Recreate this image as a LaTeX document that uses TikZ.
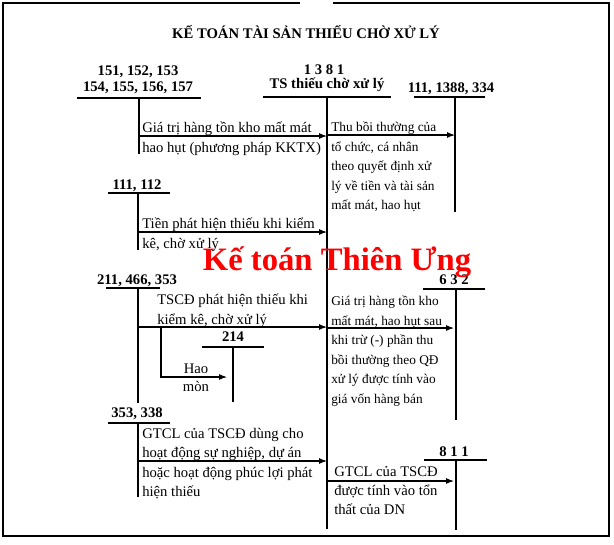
\documentclass[tikz,border=0pt]{standalone}
\usepackage{fontspec}
\setmainfont{Liberation Serif}
\usetikzlibrary{positioning}
\usetikzlibrary{arrows.meta}

\begin{document}
\begin{tikzpicture}[x=0.75pt, y=-0.75pt,
        >={Latex[length=6pt,width=4.5pt]},
        acc/.style = {font=\bfseries\fontsize{11}{13}\selectfont, inner sep=0pt, anchor=base},
        note/.style = {font=\fontsize{11}{15}\selectfont, align=left, anchor=north west, inner sep=0pt},
        notes/.style = {font=\fontsize{10}{14.6}\selectfont, align=left, anchor=north west, inner sep=0pt},
        tline/.style = {line width=0.8pt},
        mline/.style = {line width=1.8pt}
        ]
        \useasboundingbox (0,0) rectangle (614,544);
        % frame
        \draw[line width=2.2pt] (300,3) -- (3,3) -- (3,536) -- (609,536) -- (609,3) -- (333,3);
        \node (title) [acc] at (306,38) {KẾ TOÁN TÀI SẢN THIẾU CHỜ XỬ LÝ};

        % accounts
        \node (a151) [acc] at (138,75) {151, 152, 153};
        \node (a154) [acc] at (138,91) {154, 155, 156, 157};
        \node (a1381) [acc] at (324,74) {1 3 8 1};
        \node (a1381t) [acc] at (327,88) {TS thiếu chờ xử lý};
        \node (a111) [acc] at (451,92) {111, 1388, 334};
        \node (a112) [acc] at (137,189) {111, 112};
        \node (a211) [acc] at (137,284) {211, 466, 353};
        \node (a214) [acc] at (233,341) {214};
        \node (a632) [acc] at (454,284) {6 3 2};
        \node (a353) [acc] at (137,417) {353, 338};
        \node (a811) [acc] at (454,456) {8 1 1};

        % T lines
        \draw[mline] (263,97) -- (391,97);
        \coordinate (mtop) at (327,97);
        \coordinate (mbot) at (327,529);
        \draw[mline] (mtop) -- (mbot);
        \draw[tline] (77,98) -- (201,98);
        \draw[tline] (139,98) -- (139,154);
        \draw[tline] (414,97) -- (485,97);
        \draw[tline] (455,97) -- (455,212);
        \draw[tline] (108,193) -- (170,193);
        \draw[tline] (138,193) -- (138,250);
        \draw[tline] (106,288) -- (160,288);
        \draw[tline] (138,288) -- (138,403);
        \draw[tline] (202,347) -- (264,347);
        \draw[tline] (233,347) -- (233,402);
        \draw[tline] (423,289) -- (485,289);
        \draw[tline] (456,289) -- (456,420);
        \draw[tline] (108,423) -- (170,423);
        \draw[tline] (138,423) -- (138,497);
        \draw[tline] (424,460) -- (487,460);
        \draw[tline] (456,460) -- (456,530);

        % arrows
        \coordinate (s1) at (139,136);
        \coordinate (e1) at (327,136);
        \coordinate (s2) at (327,135);
        \coordinate (e2) at (455,135);
        \coordinate (s3) at (138,232);
        \coordinate (e3) at (327,232);
        \coordinate (s4) at (138,327);
        \coordinate (e4) at (327,327);
        \coordinate (b1) at (161,327);
        \coordinate (b2) at (161,377);
        \coordinate (e5) at (227,377);
        \coordinate (s6) at (327,328);
        \coordinate (e6) at (454,328);
        \coordinate (s7) at (138,461);
        \coordinate (e7) at (327,461);
        \coordinate (s8) at (327,481);
        \coordinate (e8) at (454,481);
        \draw[tline,->] (s1) -- (e1);
        \draw[tline,->] (s2) -- (e2);
        \draw[tline,->] (s3) -- (e3);
        \draw[tline,->] (s4) -- (e4);
        \draw[tline,->] (b1) -- (b2) -- (e5);
        \draw[tline,->] (s6) -- (e6);
        \draw[tline,->] (s7) -- (e7);
        \draw[tline,->] (s8) -- (e8);

        % texts
        \node (t1) [note] at (142,122) {Giá trị hàng tồn kho mất mát\\hao hụt (phương pháp KKTX)};
        \node (t2) [notes] at (331,122) {Thu bồi thường của\\tổ chức, cá nhân\\theo quyết định xử\\lý về tiền và tài sản\\mất mát, hao hụt};
        \node (t3) [note] at (142,218) {Tiền phát hiện thiếu khi kiểm\\kê, chờ xử lý};
        \node (t4) [note] at (157,294) {TSCĐ phát hiện thiếu khi\\kiểm kê, chờ xử lý};
        \node (t5) [font=\fontsize{11}{13.5}\selectfont, align=center, inner sep=0pt] at (196,378) {Hao\\mòn};
        \node (t6) [notes] at (331,296) {Giá trị hàng tồn kho\\mất mát, hao hụt sau\\khi trừ (-) phần thu\\bồi thường theo QĐ\\xử lý được tính vào\\giá vốn hàng bán};
        \node (t7) [note, font=\fontsize{11}{14.5}\selectfont] at (142,428) {GTCL của TSCĐ dùng cho\\hoạt động sự nghiệp, dự án\\hoặc hoạt động phúc lợi phát\\hiện thiếu};
        \node (t8) [note, font=\fontsize{11}{14.3}\selectfont] at (334,466) {GTCL của TSCĐ\\được tính vào tổn\\thất của DN};

        \node (wm) [font=\bfseries\fontsize{24.5}{28}\selectfont, text=red, inner sep=0pt, anchor=base] at (337,270) {Kế toán Thiên Ưng};
\end{tikzpicture}
\end{document}
